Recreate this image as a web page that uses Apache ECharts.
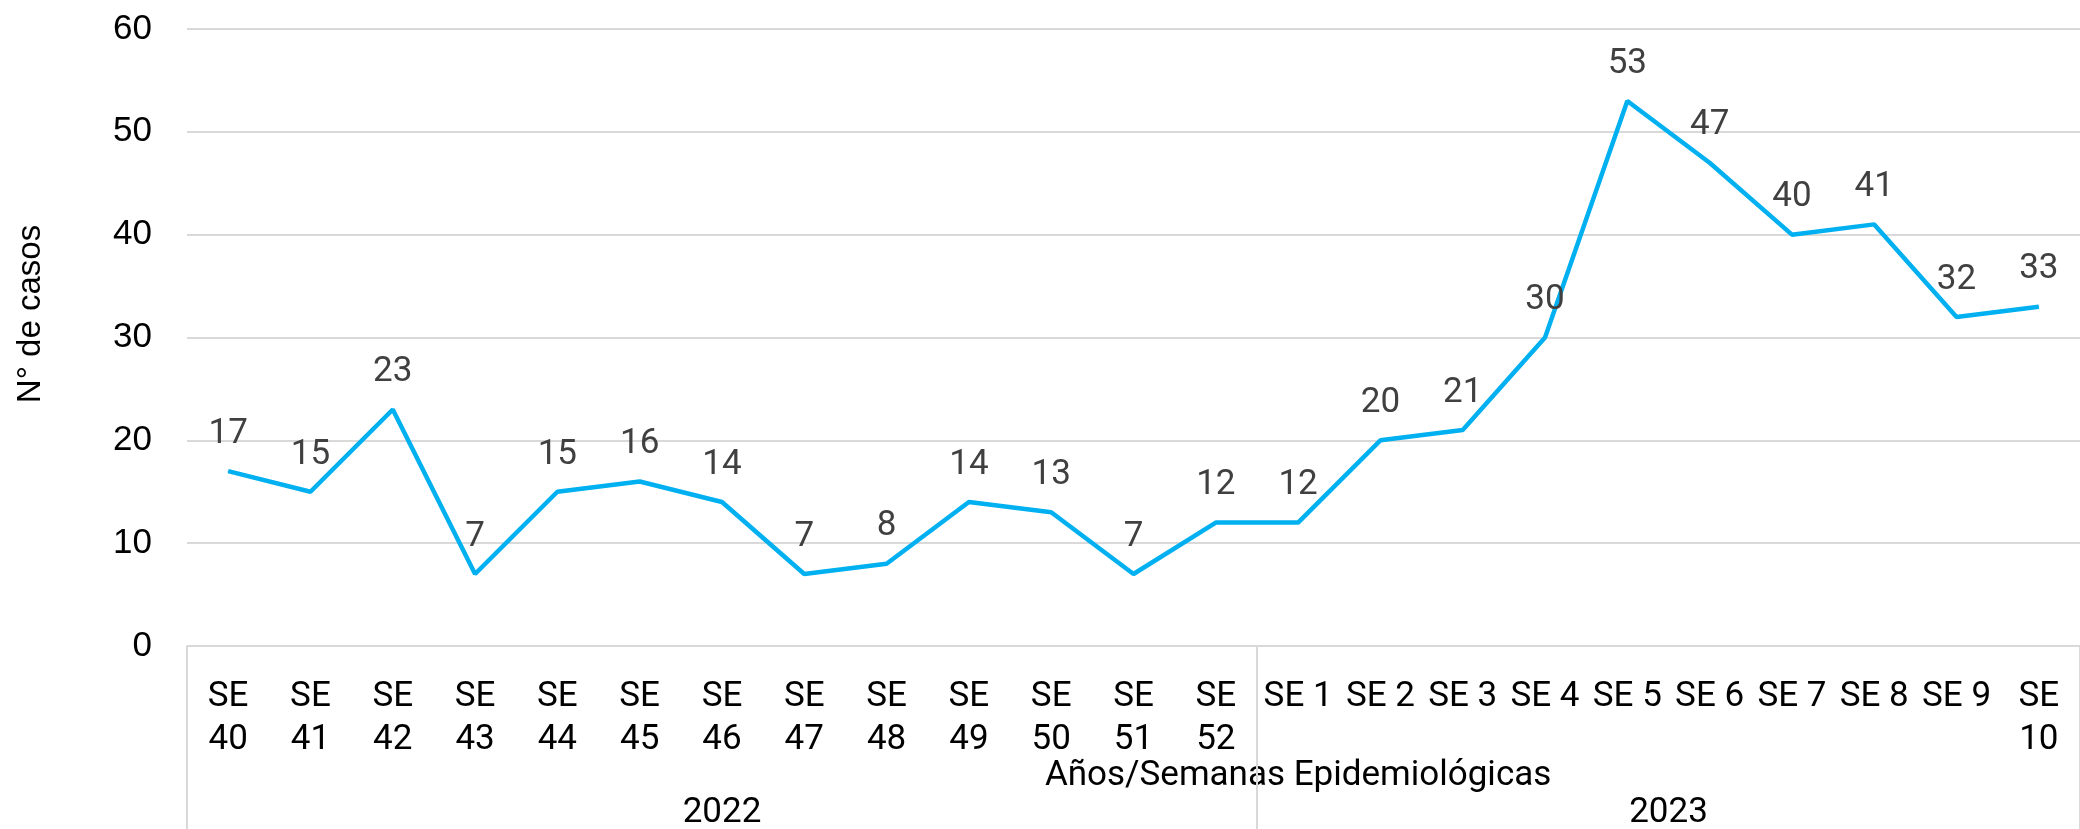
<!DOCTYPE html>
<html>
<head>
<meta charset="utf-8">
<script src="https://cdn.jsdelivr.net/npm/echarts@6/dist/echarts.min.js"></script>
<style>
  html, body { margin: 0; padding: 0; background: #fff; }
  #chart { width: 2080px; height: 829px; }
</style>
</head>
<body>
<div id="chart"></div>
<script>
// semanas epidemiológicas (2022: SE 40-52, 2023: SE 1-10)
const weeks = ['SE 40', 'SE 41', 'SE 42', 'SE 43', 'SE 44', 'SE 45', 'SE 46', 'SE 47', 'SE 48',
  'SE 49', 'SE 50', 'SE 51', 'SE 52', 'SE 1', 'SE 2', 'SE 3', 'SE 4', 'SE 5', 'SE 6', 'SE 7',
  'SE 8', 'SE 9', 'SE 10'];
const cases = [17, 15, 23, 7, 15, 16, 14, 7, 8, 14, 13, 7, 12, 12, 20, 21, 30, 53, 47, 40, 41, 32, 33];
const years = ['2022', '2023'];
const yearStart = [0, 13]; // primer índice de cada año
const yTicks = { min: 0, max: 60, interval: 10 };

const narrow = '"Liberation Sans Narrow", "Arial Narrow", Roboto, sans-serif';
const regular = '"Liberation Sans", Arial, sans-serif';

const chart = echarts.init(document.getElementById('chart'));

const option = {
  animation: false,
  grid: { left: 187, right: -17, top: 29, bottom: 183, containLabel: false },
  xAxis: {
    type: 'category',
    data: weeks,
    boundaryGap: true,
    axisLine: { lineStyle: { color: '#d9d9d9', width: 2 } },
    axisTick: {
      show: true,
      length: 190,
      interval: (idx) => yearStart.indexOf(idx) >= 0,
      lineStyle: { color: '#d9d9d9', width: 2 }
    },
    axisLabel: {
      interval: 0,
      margin: 30,
      fontFamily: narrow,
      fontSize: 35,
      lineHeight: 43,
      color: '#000',
      // las etiquetas largas se parten en dos líneas
      formatter: (v) => (v.length > 4 ? v.replace(' ', '\n') : v)
    }
  },
  yAxis: {
    type: 'value',
    min: yTicks.min,
    max: yTicks.max,
    interval: yTicks.interval,
    axisLine: { show: false },
    axisTick: { show: false },
    axisLabel: { margin: 35, fontFamily: regular, fontSize: 35, color: '#000' },
    splitLine: { lineStyle: { color: '#d9d9d9', width: 2 } }
  },
  series: [{
    type: 'line',
    data: cases,
    showSymbol: true,
    symbol: 'circle',
    symbolSize: 1,
    lineStyle: { color: '#00B0F0', width: 4.5 },
    itemStyle: { color: '#00B0F0' },
    label: {
      show: true,
      position: 'top',
      distance: 19,
      fontFamily: narrow,
      fontSize: 35,
      color: '#404040'
    }
  }]
};
chart.setOption(option);

// textos fuera del área: nombre del eje Y, título del eje X y años
const px = (i) => chart.convertToPixel({ xAxisIndex: 0 }, i);
const yearCenters = [
  (px(yearStart[0]) + px(yearStart[1] - 1)) / 2,
  (px(yearStart[1]) + px(weeks.length - 1)) / 2
];

chart.setOption({
  graphic: [
    {
      type: 'text', x: 31, y: 314, rotation: Math.PI / 2,
      style: { text: 'N° de casos', fontFamily: regular, fontSize: 33, fill: '#000',
        align: 'center', verticalAlign: 'middle' }
    },
    {
      type: 'text', x: px(yearStart[1]), y: 776,
      style: { text: 'Años/Semanas Epidemiológicas', fontFamily: narrow, fontSize: 35, fill: '#000',
        align: 'center', verticalAlign: 'middle' }
    }
  ].concat(years.map((y, i) => ({
    type: 'text', x: yearCenters[i], y: 813,
    style: { text: y, fontFamily: narrow, fontSize: 35, fill: '#000',
      align: 'center', verticalAlign: 'middle' }
  })))
});
</script>
</body>
</html>
